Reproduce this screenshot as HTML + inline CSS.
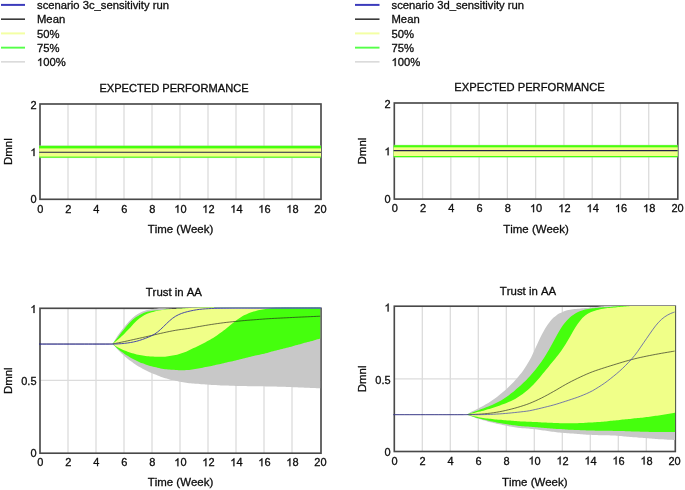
<!DOCTYPE html>
<html><head><meta charset="utf-8"><title>Sensitivity</title>
<style>
html,body{margin:0;padding:0;background:#fff;}
svg{display:block;font-family:"Liberation Sans", sans-serif;fill:#0a0a0a;}
text{stroke:#0a0a0a;stroke-width:0.28px;font-kerning:none;}
.g1{fill:#0a0a0a;stroke:#0a0a0a;stroke-width:0.28px;vector-effect:non-scaling-stroke;}
</style></head><body>
<svg width="685" height="490" viewBox="0 0 685 490">
<rect x="0" y="0" width="685" height="490" fill="#ffffff"/>
<g filter="url(#soft)">
<defs>
<filter id="soft" x="-2%" y="-2%" width="104%" height="104%"><feGaussianBlur stdDeviation="0.35"/></filter>
<clipPath id="cTL"><rect x="39.1" y="103.1" width="281.9" height="96.20000000000002"/></clipPath>
<clipPath id="cTR"><rect x="393.40000000000003" y="102.1" width="284.3999999999999" height="97.0"/></clipPath>
<clipPath id="cBL"><rect x="39.1" y="307.40000000000003" width="281.2" height="145.79999999999998"/></clipPath>
<clipPath id="cBR"><rect x="393.40000000000003" y="306.05" width="281.69999999999993" height="145.45000000000002"/></clipPath>
</defs>
<line x1="1" y1="4.9" x2="25" y2="4.9" stroke="#3a3abc" stroke-width="2"/>
<text x="37" y="9.10" font-size="11.25" text-anchor="start" >scenario 3c_sensitivity run</text>
<line x1="1" y1="19.15" x2="25" y2="19.15" stroke="#000" stroke-width="1.25"/>
<text x="37" y="23.35" font-size="11.25" text-anchor="start" >Mean</text>
<line x1="1" y1="33.4" x2="25" y2="33.4" stroke="#f3ffa4" stroke-width="2"/>
<text x="37" y="37.60" font-size="11.25" text-anchor="start" >50%</text>
<line x1="1" y1="47.65" x2="25" y2="47.65" stroke="#55ff48" stroke-width="1.9"/>
<text x="37" y="51.85" font-size="11.25" text-anchor="start" >75%</text>
<line x1="1" y1="61.9" x2="25" y2="61.9" stroke="#c6c6c6" stroke-width="1.05"/>
<path class="g1" d="M763 0H583V1147Q518 1085 412.5 1023T223 930V1104Q374 1175 487 1276T647 1472H763Z" transform="translate(37.00,66.10) scale(0.005493,-0.005493)"/>
<text x="43.26" y="66.10" font-size="11.25">00%</text>
<line x1="355" y1="4.9" x2="379.5" y2="4.9" stroke="#3a3abc" stroke-width="2"/>
<text x="391.5" y="9.10" font-size="11.25" text-anchor="start" >scenario 3d_sensitivity run</text>
<line x1="355" y1="19.15" x2="379.5" y2="19.15" stroke="#000" stroke-width="1.25"/>
<text x="391.5" y="23.35" font-size="11.25" text-anchor="start" >Mean</text>
<line x1="355" y1="33.4" x2="379.5" y2="33.4" stroke="#f3ffa4" stroke-width="2"/>
<text x="391.5" y="37.60" font-size="11.25" text-anchor="start" >50%</text>
<line x1="355" y1="47.65" x2="379.5" y2="47.65" stroke="#55ff48" stroke-width="1.9"/>
<text x="391.5" y="51.85" font-size="11.25" text-anchor="start" >75%</text>
<line x1="355" y1="61.9" x2="379.5" y2="61.9" stroke="#c6c6c6" stroke-width="1.05"/>
<path class="g1" d="M763 0H583V1147Q518 1085 412.5 1023T223 930V1104Q374 1175 487 1276T647 1472H763Z" transform="translate(391.50,66.10) scale(0.005493,-0.005493)"/>
<text x="397.75" y="66.10" font-size="11.25">00%</text>
<line x1="68.00" y1="104" x2="68.00" y2="199.3" stroke="#dcdcdc" stroke-width="1.3"/>
<line x1="96.00" y1="104" x2="96.00" y2="199.3" stroke="#dcdcdc" stroke-width="1.3"/>
<line x1="124.00" y1="104" x2="124.00" y2="199.3" stroke="#dcdcdc" stroke-width="1.3"/>
<line x1="152.00" y1="104" x2="152.00" y2="199.3" stroke="#dcdcdc" stroke-width="1.3"/>
<line x1="180.00" y1="104" x2="180.00" y2="199.3" stroke="#dcdcdc" stroke-width="1.3"/>
<line x1="208.00" y1="104" x2="208.00" y2="199.3" stroke="#dcdcdc" stroke-width="1.3"/>
<line x1="236.00" y1="104" x2="236.00" y2="199.3" stroke="#dcdcdc" stroke-width="1.3"/>
<line x1="264.00" y1="104" x2="264.00" y2="199.3" stroke="#dcdcdc" stroke-width="1.3"/>
<line x1="292.00" y1="104" x2="292.00" y2="199.3" stroke="#dcdcdc" stroke-width="1.3"/>
<rect x="40" y="104" width="281" height="95.30000000000001" fill="none" stroke="#4a4a4a" stroke-width="1.65"/>
<line x1="422.57" y1="103" x2="422.57" y2="199.1" stroke="#dcdcdc" stroke-width="1.3"/>
<line x1="450.84" y1="103" x2="450.84" y2="199.1" stroke="#dcdcdc" stroke-width="1.3"/>
<line x1="479.11" y1="103" x2="479.11" y2="199.1" stroke="#dcdcdc" stroke-width="1.3"/>
<line x1="507.38" y1="103" x2="507.38" y2="199.1" stroke="#dcdcdc" stroke-width="1.3"/>
<line x1="535.65" y1="103" x2="535.65" y2="199.1" stroke="#dcdcdc" stroke-width="1.3"/>
<line x1="563.92" y1="103" x2="563.92" y2="199.1" stroke="#dcdcdc" stroke-width="1.3"/>
<line x1="592.19" y1="103" x2="592.19" y2="199.1" stroke="#dcdcdc" stroke-width="1.3"/>
<line x1="620.46" y1="103" x2="620.46" y2="199.1" stroke="#dcdcdc" stroke-width="1.3"/>
<line x1="648.73" y1="103" x2="648.73" y2="199.1" stroke="#dcdcdc" stroke-width="1.3"/>
<rect x="394.3" y="103" width="283.49999999999994" height="96.1" fill="none" stroke="#4a4a4a" stroke-width="1.65"/>
<line x1="68.00" y1="308.3" x2="68.00" y2="453.2" stroke="#dcdcdc" stroke-width="1.3"/>
<line x1="96.00" y1="308.3" x2="96.00" y2="453.2" stroke="#dcdcdc" stroke-width="1.3"/>
<line x1="124.00" y1="308.3" x2="124.00" y2="453.2" stroke="#dcdcdc" stroke-width="1.3"/>
<line x1="152.00" y1="308.3" x2="152.00" y2="453.2" stroke="#dcdcdc" stroke-width="1.3"/>
<line x1="180.00" y1="308.3" x2="180.00" y2="453.2" stroke="#dcdcdc" stroke-width="1.3"/>
<line x1="208.00" y1="308.3" x2="208.00" y2="453.2" stroke="#dcdcdc" stroke-width="1.3"/>
<line x1="236.00" y1="308.3" x2="236.00" y2="453.2" stroke="#dcdcdc" stroke-width="1.3"/>
<line x1="264.00" y1="308.3" x2="264.00" y2="453.2" stroke="#dcdcdc" stroke-width="1.3"/>
<line x1="292.00" y1="308.3" x2="292.00" y2="453.2" stroke="#dcdcdc" stroke-width="1.3"/>
<line x1="40" y1="380.3" x2="321" y2="380.3" stroke="#dcdcdc" stroke-width="1.3"/>
<rect x="40" y="308.3" width="281" height="144.89999999999998" fill="none" stroke="#4a4a4a" stroke-width="1.65"/>
<line x1="422.30" y1="306.2" x2="422.30" y2="451.5" stroke="#dcdcdc" stroke-width="1.3"/>
<line x1="450.30" y1="306.2" x2="450.30" y2="451.5" stroke="#dcdcdc" stroke-width="1.3"/>
<line x1="478.30" y1="306.2" x2="478.30" y2="451.5" stroke="#dcdcdc" stroke-width="1.3"/>
<line x1="506.30" y1="306.2" x2="506.30" y2="451.5" stroke="#dcdcdc" stroke-width="1.3"/>
<line x1="534.30" y1="306.2" x2="534.30" y2="451.5" stroke="#dcdcdc" stroke-width="1.3"/>
<line x1="562.30" y1="306.2" x2="562.30" y2="451.5" stroke="#dcdcdc" stroke-width="1.3"/>
<line x1="590.30" y1="306.2" x2="590.30" y2="451.5" stroke="#dcdcdc" stroke-width="1.3"/>
<line x1="618.30" y1="306.2" x2="618.30" y2="451.5" stroke="#dcdcdc" stroke-width="1.3"/>
<line x1="646.30" y1="306.2" x2="646.30" y2="451.5" stroke="#dcdcdc" stroke-width="1.3"/>
<line x1="394.3" y1="378.9" x2="675.3" y2="378.9" stroke="#dcdcdc" stroke-width="1.3"/>
<rect x="394.3" y="306.2" width="280.99999999999994" height="145.3" fill="none" stroke="#4a4a4a" stroke-width="1.65"/>
<g clip-path="url(#cTL)">
<rect x="39.1" y="145.3" width="281.9" height="12.799999999999978" fill="#c8c8c8" opacity="0.6"/>
<rect x="39.1" y="145.8" width="281.9" height="11.899999999999977" fill="#44ff08"/>
<rect x="39.1" y="148.4" width="281.9" height="8.199999999999989" fill="#f0ff88"/>
<line x1="39.1" y1="152.2" x2="321" y2="152.2" stroke="#22224a" stroke-width="1.15"/>
</g>
<g clip-path="url(#cTR)">
<rect x="393.40000000000003" y="144.7" width="284.3999999999999" height="12.9" fill="#c8c8c8" opacity="0.6"/>
<rect x="393.40000000000003" y="145.2" width="284.3999999999999" height="12.0" fill="#44ff08"/>
<rect x="393.40000000000003" y="147.3" width="284.3999999999999" height="8.699999999999989" fill="#f0ff88"/>
<line x1="393.40000000000003" y1="150.55" x2="677.8" y2="150.55" stroke="#22224a" stroke-width="1.15"/>
</g>
<path d="M112.60,343.99 C113.10,343.14 114.60,340.52 115.60,338.89 C116.60,337.26 117.60,335.64 118.60,334.21 C119.60,332.77 120.60,331.57 121.60,330.29 C122.60,329.00 123.60,327.72 124.60,326.49 C125.60,325.26 126.60,324.04 127.60,322.91 C128.60,321.78 129.60,320.68 130.60,319.70 C131.60,318.71 132.60,317.82 133.60,317.01 C134.60,316.19 135.60,315.48 136.60,314.80 C137.60,314.13 138.60,313.52 139.60,312.97 C140.60,312.42 141.60,311.91 142.60,311.49 C143.60,311.07 144.60,310.73 145.60,310.44 C146.60,310.14 147.60,309.91 148.60,309.70 C149.60,309.49 150.60,309.33 151.60,309.18 C152.60,309.02 153.60,308.90 154.60,308.78 C155.60,308.65 156.60,308.53 157.60,308.44 C158.60,308.35 159.60,308.23 160.60,308.21 C161.60,308.19 162.60,308.26 163.60,308.30 C164.60,308.35 165.60,308.43 166.60,308.50 C167.60,308.56 168.60,308.64 169.60,308.70 C170.60,308.77 171.60,308.85 172.60,308.90 C173.60,308.95 174.60,309.00 175.60,308.99 C176.60,308.98 177.60,308.88 178.60,308.82 C179.60,308.76 180.60,308.69 181.60,308.63 C182.60,308.57 183.60,308.51 184.60,308.45 C185.60,308.38 186.60,308.32 187.60,308.25 C188.60,308.19 189.60,308.12 190.60,308.05 C191.60,307.98 192.60,307.91 193.60,307.84 C194.60,307.77 195.60,307.70 196.60,307.64 C197.60,307.58 198.60,307.52 199.60,307.47 C200.60,307.42 201.60,307.37 202.60,307.32 C203.60,307.28 204.60,307.24 205.60,307.22 C206.60,307.19 207.60,307.18 208.60,307.17 C209.60,307.15 210.60,307.14 211.60,307.13 C212.60,307.13 213.60,307.12 214.60,307.11 C215.60,307.10 216.60,307.10 217.60,307.10 C218.60,307.10 219.60,307.10 220.60,307.10 C221.60,307.10 222.60,307.10 223.60,307.10 C224.60,307.10 225.60,307.10 226.60,307.10 C227.60,307.10 228.60,307.10 229.60,307.10 C230.60,307.10 231.60,307.10 232.60,307.10 C233.60,307.10 234.60,307.10 235.60,307.10 C236.60,307.10 237.60,307.10 238.60,307.10 C239.60,307.10 240.60,307.10 241.60,307.10 C242.60,307.10 243.60,307.10 244.60,307.10 C245.60,307.10 246.60,307.10 247.60,307.10 C248.60,307.10 249.60,307.10 250.60,307.10 C251.60,307.10 252.60,307.10 253.60,307.10 C254.60,307.10 255.60,307.10 256.60,307.10 C257.60,307.10 258.60,307.10 259.60,307.10 C260.60,307.10 261.60,307.10 262.60,307.10 C263.60,307.10 264.60,307.10 265.60,307.10 C266.60,307.10 267.60,307.10 268.60,307.10 C269.60,307.10 270.60,307.10 271.60,307.10 C272.60,307.10 273.60,307.10 274.60,307.10 C275.60,307.10 276.60,307.10 277.60,307.10 C278.60,307.10 279.60,307.10 280.60,307.10 C281.60,307.10 282.60,307.10 283.60,307.10 C284.60,307.10 285.60,307.10 286.60,307.10 C287.60,307.10 288.60,307.10 289.60,307.10 C290.60,307.10 291.60,307.10 292.60,307.10 C293.60,307.10 294.60,307.10 295.60,307.10 C296.60,307.10 297.60,307.10 298.60,307.10 C299.60,307.10 300.60,307.10 301.60,307.10 C302.60,307.10 303.60,307.10 304.60,307.10 C305.60,307.10 306.60,307.10 307.60,307.10 C308.60,307.10 309.60,307.10 310.60,307.10 C311.60,307.10 312.60,307.10 313.60,307.10 C314.60,307.10 315.60,307.10 316.60,307.10 C317.60,307.10 318.93,307.10 319.60,307.10 C320.27,307.10 320.43,307.10 320.60,307.10 L320.60,388.37 C320.43,388.36 320.27,388.35 319.60,388.32 C318.93,388.29 317.60,388.22 316.60,388.17 C315.60,388.12 314.60,388.06 313.60,388.02 C312.60,387.97 311.60,387.92 310.60,387.88 C309.60,387.84 308.60,387.80 307.60,387.76 C306.60,387.72 305.60,387.68 304.60,387.64 C303.60,387.60 302.60,387.56 301.60,387.52 C300.60,387.48 299.60,387.44 298.60,387.40 C297.60,387.36 296.60,387.32 295.60,387.28 C294.60,387.24 293.60,387.20 292.60,387.16 C291.60,387.12 290.60,387.08 289.60,387.04 C288.60,387.01 287.60,386.97 286.60,386.94 C285.60,386.90 284.60,386.87 283.60,386.84 C282.60,386.80 281.60,386.77 280.60,386.74 C279.60,386.71 278.60,386.68 277.60,386.66 C276.60,386.63 275.60,386.60 274.60,386.58 C273.60,386.55 272.60,386.53 271.60,386.51 C270.60,386.48 269.60,386.46 268.60,386.44 C267.60,386.42 266.60,386.40 265.60,386.38 C264.60,386.37 263.60,386.35 262.60,386.33 C261.60,386.32 260.60,386.31 259.60,386.29 C258.60,386.28 257.60,386.27 256.60,386.26 C255.60,386.25 254.60,386.24 253.60,386.23 C252.60,386.22 251.60,386.21 250.60,386.20 C249.60,386.19 248.60,386.18 247.60,386.17 C246.60,386.15 245.60,386.14 244.60,386.12 C243.60,386.10 242.60,386.08 241.60,386.06 C240.60,386.04 239.60,386.01 238.60,385.98 C237.60,385.96 236.60,385.93 235.60,385.90 C234.60,385.87 233.60,385.84 232.60,385.81 C231.60,385.78 230.60,385.75 229.60,385.72 C228.60,385.68 227.60,385.65 226.60,385.62 C225.60,385.59 224.60,385.55 223.60,385.51 C222.60,385.48 221.60,385.44 220.60,385.39 C219.60,385.35 218.60,385.31 217.60,385.26 C216.60,385.21 215.60,385.16 214.60,385.11 C213.60,385.05 212.60,384.99 211.60,384.93 C210.60,384.87 209.60,384.80 208.60,384.73 C207.60,384.66 206.60,384.59 205.60,384.51 C204.60,384.43 203.60,384.35 202.60,384.27 C201.60,384.19 200.60,384.09 199.60,384.01 C198.60,383.93 197.60,383.87 196.60,383.80 C195.60,383.72 194.60,383.63 193.60,383.54 C192.60,383.44 191.60,383.34 190.60,383.23 C189.60,383.12 188.60,383.01 187.60,382.88 C186.60,382.75 185.60,382.61 184.60,382.46 C183.60,382.31 182.60,382.14 181.60,381.97 C180.60,381.79 179.60,381.60 178.60,381.41 C177.60,381.21 176.60,381.01 175.60,380.79 C174.60,380.57 173.60,380.35 172.60,380.11 C171.60,379.88 170.60,379.64 169.60,379.38 C168.60,379.13 167.60,378.87 166.60,378.59 C165.60,378.30 164.60,378.00 163.60,377.68 C162.60,377.36 161.60,377.01 160.60,376.66 C159.60,376.30 158.60,375.93 157.60,375.55 C156.60,375.16 155.60,374.76 154.60,374.35 C153.60,373.94 152.60,373.51 151.60,373.07 C150.60,372.63 149.60,372.18 148.60,371.71 C147.60,371.24 146.60,370.76 145.60,370.25 C144.60,369.75 143.60,369.23 142.60,368.69 C141.60,368.14 140.60,367.58 139.60,366.99 C138.60,366.40 137.60,365.79 136.60,365.15 C135.60,364.51 134.60,363.85 133.60,363.16 C132.60,362.47 131.60,361.74 130.60,360.99 C129.60,360.24 128.60,359.46 127.60,358.65 C126.60,357.85 125.60,357.02 124.60,356.18 C123.60,355.34 122.60,354.55 121.60,353.61 C120.60,352.68 119.60,351.62 118.60,350.55 C117.60,349.48 116.60,348.29 115.60,347.20 C114.60,346.11 113.10,344.54 112.60,344.00 Z" fill="#c8c8c8" clip-path="url(#cBL)"/>
<path d="M112.60,343.99 C113.10,343.34 114.60,341.34 115.60,340.06 C116.60,338.78 117.60,337.59 118.60,336.30 C119.60,335.02 120.60,333.65 121.60,332.36 C122.60,331.07 123.60,329.78 124.60,328.55 C125.60,327.31 126.60,326.08 127.60,324.94 C128.60,323.80 129.60,322.70 130.60,321.71 C131.60,320.72 132.60,319.82 133.60,319.00 C134.60,318.17 135.60,317.45 136.60,316.77 C137.60,316.09 138.60,315.47 139.60,314.92 C140.60,314.36 141.60,313.84 142.60,313.41 C143.60,312.98 144.60,312.64 145.60,312.34 C146.60,312.03 147.60,311.80 148.60,311.58 C149.60,311.36 150.60,311.20 151.60,311.04 C152.60,310.88 153.60,310.75 154.60,310.62 C155.60,310.49 156.60,310.37 157.60,310.26 C158.60,310.14 159.60,310.04 160.60,309.94 C161.60,309.84 162.60,309.75 163.60,309.67 C164.60,309.60 165.60,309.56 166.60,309.50 C167.60,309.45 168.60,309.41 169.60,309.35 C170.60,309.30 171.60,309.25 172.60,309.19 C173.60,309.13 174.60,309.05 175.60,308.99 C176.60,308.93 177.60,308.88 178.60,308.82 C179.60,308.76 180.60,308.69 181.60,308.63 C182.60,308.57 183.60,308.51 184.60,308.45 C185.60,308.38 186.60,308.32 187.60,308.25 C188.60,308.19 189.60,308.12 190.60,308.05 C191.60,307.98 192.60,307.91 193.60,307.84 C194.60,307.77 195.60,307.70 196.60,307.64 C197.60,307.58 198.60,307.52 199.60,307.47 C200.60,307.42 201.60,307.37 202.60,307.32 C203.60,307.28 204.60,307.24 205.60,307.22 C206.60,307.19 207.60,307.18 208.60,307.17 C209.60,307.15 210.60,307.14 211.60,307.13 C212.60,307.13 213.60,307.12 214.60,307.11 C215.60,307.10 216.60,307.10 217.60,307.10 C218.60,307.10 219.60,307.10 220.60,307.10 C221.60,307.10 222.60,307.10 223.60,307.10 C224.60,307.10 225.60,307.10 226.60,307.10 C227.60,307.10 228.60,307.10 229.60,307.10 C230.60,307.10 231.60,307.10 232.60,307.10 C233.60,307.10 234.60,307.10 235.60,307.10 C236.60,307.10 237.60,307.10 238.60,307.10 C239.60,307.10 240.60,307.10 241.60,307.10 C242.60,307.10 243.60,307.10 244.60,307.10 C245.60,307.10 246.60,307.10 247.60,307.10 C248.60,307.10 249.60,307.10 250.60,307.10 C251.60,307.10 252.60,307.10 253.60,307.10 C254.60,307.10 255.60,307.10 256.60,307.10 C257.60,307.10 258.60,307.10 259.60,307.10 C260.60,307.10 261.60,307.10 262.60,307.10 C263.60,307.10 264.60,307.10 265.60,307.10 C266.60,307.10 267.60,307.10 268.60,307.10 C269.60,307.10 270.60,307.10 271.60,307.10 C272.60,307.10 273.60,307.10 274.60,307.10 C275.60,307.10 276.60,307.10 277.60,307.10 C278.60,307.10 279.60,307.10 280.60,307.10 C281.60,307.10 282.60,307.10 283.60,307.10 C284.60,307.10 285.60,307.10 286.60,307.10 C287.60,307.10 288.60,307.10 289.60,307.10 C290.60,307.10 291.60,307.10 292.60,307.10 C293.60,307.10 294.60,307.10 295.60,307.10 C296.60,307.10 297.60,307.10 298.60,307.10 C299.60,307.10 300.60,307.10 301.60,307.10 C302.60,307.10 303.60,307.10 304.60,307.10 C305.60,307.10 306.60,307.10 307.60,307.10 C308.60,307.10 309.60,307.10 310.60,307.10 C311.60,307.10 312.60,307.10 313.60,307.10 C314.60,307.10 315.60,307.10 316.60,307.10 C317.60,307.10 318.93,307.10 319.60,307.10 C320.27,307.10 320.43,307.10 320.60,307.10 L320.60,338.47 C320.43,338.52 320.27,338.56 319.60,338.75 C318.93,338.93 317.60,339.31 316.60,339.59 C315.60,339.87 314.60,340.15 313.60,340.43 C312.60,340.71 311.60,341.00 310.60,341.27 C309.60,341.54 308.60,341.78 307.60,342.04 C306.60,342.30 305.60,342.57 304.60,342.84 C303.60,343.11 302.60,343.39 301.60,343.66 C300.60,343.93 299.60,344.21 298.60,344.48 C297.60,344.75 296.60,345.03 295.60,345.31 C294.60,345.58 293.60,345.86 292.60,346.14 C291.60,346.41 290.60,346.69 289.60,346.96 C288.60,347.23 287.60,347.50 286.60,347.76 C285.60,348.03 284.60,348.29 283.60,348.54 C282.60,348.80 281.60,349.06 280.60,349.31 C279.60,349.56 278.60,349.82 277.60,350.07 C276.60,350.32 275.60,350.57 274.60,350.83 C273.60,351.08 272.60,351.34 271.60,351.60 C270.60,351.86 269.60,352.12 268.60,352.38 C267.60,352.65 266.60,352.91 265.60,353.17 C264.60,353.43 263.60,353.69 262.60,353.93 C261.60,354.18 260.60,354.41 259.60,354.64 C258.60,354.87 257.60,355.09 256.60,355.32 C255.60,355.55 254.60,355.77 253.60,356.01 C252.60,356.24 251.60,356.48 250.60,356.72 C249.60,356.96 248.60,357.20 247.60,357.44 C246.60,357.68 245.60,357.93 244.60,358.17 C243.60,358.41 242.60,358.66 241.60,358.91 C240.60,359.15 239.60,359.40 238.60,359.65 C237.60,359.90 236.60,360.15 235.60,360.39 C234.60,360.64 233.60,360.89 232.60,361.13 C231.60,361.37 230.60,361.61 229.60,361.85 C228.60,362.09 227.60,362.32 226.60,362.55 C225.60,362.79 224.60,363.02 223.60,363.25 C222.60,363.48 221.60,363.70 220.60,363.93 C219.60,364.16 218.60,364.38 217.60,364.61 C216.60,364.83 215.60,365.05 214.60,365.26 C213.60,365.48 212.60,365.69 211.60,365.90 C210.60,366.10 209.60,366.31 208.60,366.51 C207.60,366.71 206.60,366.90 205.60,367.09 C204.60,367.29 203.60,367.48 202.60,367.66 C201.60,367.85 200.60,368.02 199.60,368.21 C198.60,368.40 197.60,368.61 196.60,368.79 C195.60,368.97 194.60,369.14 193.60,369.30 C192.60,369.45 191.60,369.59 190.60,369.71 C189.60,369.83 188.60,369.93 187.60,370.00 C186.60,370.08 185.60,370.13 184.60,370.16 C183.60,370.20 182.60,370.21 181.60,370.21 C180.60,370.21 179.60,370.19 178.60,370.16 C177.60,370.13 176.60,370.09 175.60,370.04 C174.60,369.98 173.60,369.92 172.60,369.85 C171.60,369.78 170.60,369.70 169.60,369.61 C168.60,369.52 167.60,369.43 166.60,369.32 C165.60,369.20 164.60,369.06 163.60,368.91 C162.60,368.75 161.60,368.57 160.60,368.38 C159.60,368.19 158.60,367.99 157.60,367.77 C156.60,367.56 155.60,367.33 154.60,367.09 C153.60,366.85 152.60,366.60 151.60,366.32 C150.60,366.05 149.60,365.76 148.60,365.46 C147.60,365.15 146.60,364.82 145.60,364.48 C144.60,364.13 143.60,363.76 142.60,363.37 C141.60,362.99 140.60,362.58 139.60,362.15 C138.60,361.72 137.60,361.28 136.60,360.81 C135.60,360.33 134.60,359.84 133.60,359.32 C132.60,358.80 131.60,358.26 130.60,357.68 C129.60,357.10 128.60,356.49 127.60,355.86 C126.60,355.23 125.60,354.57 124.60,353.91 C123.60,353.24 122.60,352.62 121.60,351.87 C120.60,351.12 119.60,350.29 118.60,349.43 C117.60,348.57 116.60,347.61 115.60,346.71 C114.60,345.81 113.10,344.45 112.60,344.00 Z" fill="#44ff08" clip-path="url(#cBL)"/>
<path d="M112.60,344.00 C113.10,343.60 114.60,342.42 115.60,341.59 C116.60,340.77 117.60,339.93 118.60,339.03 C119.60,338.14 120.60,337.17 121.60,336.23 C122.60,335.30 123.60,334.40 124.60,333.42 C125.60,332.44 126.60,331.41 127.60,330.37 C128.60,329.33 129.60,328.26 130.60,327.17 C131.60,326.08 132.60,324.90 133.60,323.82 C134.60,322.73 135.60,321.61 136.60,320.67 C137.60,319.73 138.60,318.93 139.60,318.19 C140.60,317.45 141.60,316.83 142.60,316.22 C143.60,315.62 144.60,315.05 145.60,314.56 C146.60,314.07 147.60,313.66 148.60,313.29 C149.60,312.93 150.60,312.64 151.60,312.35 C152.60,312.05 153.60,311.77 154.60,311.52 C155.60,311.27 156.60,311.07 157.60,310.86 C158.60,310.65 159.60,310.43 160.60,310.25 C161.60,310.07 162.60,309.90 163.60,309.76 C164.60,309.63 165.60,309.54 166.60,309.45 C167.60,309.36 168.60,309.27 169.60,309.22 C170.60,309.16 171.60,309.16 172.60,309.12 C173.60,309.08 174.60,309.04 175.60,308.99 C176.60,308.94 177.60,308.88 178.60,308.82 C179.60,308.76 180.60,308.69 181.60,308.63 C182.60,308.57 183.60,308.51 184.60,308.45 C185.60,308.38 186.60,308.32 187.60,308.25 C188.60,308.19 189.60,308.12 190.60,308.05 C191.60,307.98 192.60,307.91 193.60,307.84 C194.60,307.77 195.60,307.70 196.60,307.64 C197.60,307.58 198.60,307.52 199.60,307.47 C200.60,307.42 201.60,307.37 202.60,307.32 C203.60,307.28 204.60,307.24 205.60,307.22 C206.60,307.19 207.60,307.18 208.60,307.17 C209.60,307.15 210.60,307.14 211.60,307.13 C212.60,307.13 213.60,307.12 214.60,307.11 C215.60,307.10 216.60,307.10 217.60,307.10 C218.60,307.10 219.60,307.10 220.60,307.10 C221.60,307.10 222.60,307.10 223.60,307.10 C224.60,307.10 225.60,307.10 226.60,307.10 C227.60,307.10 228.60,307.10 229.60,307.10 C230.60,307.10 231.60,307.10 232.60,307.10 C233.60,307.10 234.60,307.10 235.60,307.10 C236.60,307.10 237.60,307.10 238.60,307.10 C239.60,307.10 240.60,307.10 241.60,307.10 C242.60,307.10 243.60,307.10 244.60,307.10 C245.60,307.10 246.60,307.10 247.60,307.10 C248.60,307.10 249.60,307.10 250.60,307.10 C251.60,307.10 252.60,307.10 253.60,307.10 C254.60,307.10 255.60,307.10 256.60,307.10 C257.60,307.10 258.60,307.10 259.60,307.10 C260.60,307.10 261.60,307.10 262.60,307.10 C263.60,307.10 264.60,307.10 265.60,307.10 C266.60,307.10 267.60,307.10 268.60,307.10 C269.60,307.10 270.60,307.10 271.60,307.10 C272.60,307.10 273.60,307.10 274.60,307.10 C275.60,307.10 276.60,307.10 277.60,307.10 C278.60,307.10 279.60,307.10 280.60,307.10 C281.60,307.10 282.60,307.10 283.60,307.10 C284.60,307.10 285.60,307.10 286.60,307.10 C287.60,307.10 288.60,307.10 289.60,307.10 C290.60,307.10 291.60,307.10 292.60,307.10 C293.60,307.10 294.60,307.10 295.60,307.10 C296.60,307.10 297.60,307.10 298.60,307.10 C299.60,307.10 300.60,307.10 301.60,307.10 C302.60,307.10 303.60,307.10 304.60,307.10 C305.60,307.10 306.60,307.10 307.60,307.10 C308.60,307.10 309.60,307.10 310.60,307.10 C311.60,307.10 312.60,307.10 313.60,307.10 C314.60,307.10 315.60,307.10 316.60,307.10 C317.60,307.10 318.93,307.10 319.60,307.10 C320.27,307.10 320.43,307.10 320.60,307.10 L320.60,307.10 C320.43,307.10 320.27,307.10 319.60,307.10 C318.93,307.10 317.60,307.10 316.60,307.10 C315.60,307.10 314.60,307.10 313.60,307.10 C312.60,307.10 311.60,307.10 310.60,307.10 C309.60,307.10 308.60,307.10 307.60,307.10 C306.60,307.10 305.60,307.10 304.60,307.10 C303.60,307.10 302.60,307.10 301.60,307.10 C300.60,307.10 299.60,307.10 298.60,307.10 C297.60,307.10 296.60,307.10 295.60,307.10 C294.60,307.10 293.60,307.10 292.60,307.10 C291.60,307.10 290.60,307.10 289.60,307.10 C288.60,307.10 287.60,307.10 286.60,307.10 C285.60,307.11 284.60,307.11 283.60,307.12 C282.60,307.13 281.60,307.14 280.60,307.17 C279.60,307.20 278.60,307.23 277.60,307.30 C276.60,307.36 275.60,307.44 274.60,307.55 C273.60,307.65 272.60,307.78 271.60,307.92 C270.60,308.07 269.60,308.23 268.60,308.39 C267.60,308.56 266.60,308.73 265.60,308.91 C264.60,309.08 263.60,309.26 262.60,309.44 C261.60,309.63 260.60,309.82 259.60,310.03 C258.60,310.24 257.60,310.46 256.60,310.70 C255.60,310.95 254.60,311.20 253.60,311.50 C252.60,311.79 251.60,312.11 250.60,312.46 C249.60,312.82 248.60,313.20 247.60,313.64 C246.60,314.07 245.60,314.54 244.60,315.06 C243.60,315.58 242.60,316.15 241.60,316.76 C240.60,317.38 239.60,318.04 238.60,318.74 C237.60,319.44 236.60,320.19 235.60,320.95 C234.60,321.71 233.60,322.51 232.60,323.30 C231.60,324.10 230.60,324.91 229.60,325.72 C228.60,326.53 227.60,327.34 226.60,328.13 C225.60,328.93 224.60,329.72 223.60,330.49 C222.60,331.26 221.60,332.02 220.60,332.75 C219.60,333.49 218.60,334.20 217.60,334.90 C216.60,335.59 215.60,336.26 214.60,336.90 C213.60,337.55 212.60,338.17 211.60,338.78 C210.60,339.38 209.60,339.96 208.60,340.52 C207.60,341.09 206.60,341.63 205.60,342.16 C204.60,342.69 203.60,343.20 202.60,343.70 C201.60,344.20 200.60,344.68 199.60,345.17 C198.60,345.66 197.60,346.15 196.60,346.64 C195.60,347.13 194.60,347.61 193.60,348.09 C192.60,348.58 191.60,349.07 190.60,349.54 C189.60,350.01 188.60,350.49 187.60,350.94 C186.60,351.39 185.60,351.82 184.60,352.22 C183.60,352.61 182.60,352.98 181.60,353.32 C180.60,353.65 179.60,353.94 178.60,354.22 C177.60,354.49 176.60,354.73 175.60,354.95 C174.60,355.17 173.60,355.36 172.60,355.54 C171.60,355.72 170.60,355.88 169.60,356.02 C168.60,356.17 167.60,356.30 166.60,356.40 C165.60,356.51 164.60,356.60 163.60,356.66 C162.60,356.72 161.60,356.76 160.60,356.78 C159.60,356.81 158.60,356.82 157.60,356.81 C156.60,356.80 155.60,356.78 154.60,356.75 C153.60,356.71 152.60,356.66 151.60,356.59 C150.60,356.53 149.60,356.45 148.60,356.35 C147.60,356.25 146.60,356.14 145.60,356.01 C144.60,355.88 143.60,355.74 142.60,355.57 C141.60,355.41 140.60,355.23 139.60,355.03 C138.60,354.83 137.60,354.62 136.60,354.38 C135.60,354.15 134.60,353.89 133.60,353.61 C132.60,353.34 131.60,353.04 130.60,352.71 C129.60,352.39 128.60,352.04 127.60,351.68 C126.60,351.32 125.60,350.93 124.60,350.54 C123.60,350.15 122.60,349.78 121.60,349.32 C120.60,348.87 119.60,348.37 118.60,347.82 C117.60,347.27 116.60,346.65 115.60,346.02 C114.60,345.38 113.10,344.34 112.60,344.00 Z" fill="#f0ff88" clip-path="url(#cBL)"/>
<path d="M39.00,344.00 C45.83,344.00 68.50,344.00 80.00,344.00 C91.50,344.00 102.57,344.02 108.00,344.00 C113.43,343.98 111.33,344.01 112.60,343.90 C113.87,343.79 114.60,343.55 115.60,343.36 C116.60,343.17 117.60,342.98 118.60,342.78 C119.60,342.57 120.60,342.36 121.60,342.15 C122.60,341.94 123.60,341.74 124.60,341.52 C125.60,341.31 126.60,341.08 127.60,340.86 C128.60,340.64 129.60,340.41 130.60,340.19 C131.60,339.97 132.60,339.75 133.60,339.53 C134.60,339.31 135.60,339.09 136.60,338.87 C137.60,338.64 138.60,338.42 139.60,338.20 C140.60,337.98 141.60,337.75 142.60,337.53 C143.60,337.30 144.60,337.07 145.60,336.85 C146.60,336.62 147.60,336.39 148.60,336.16 C149.60,335.93 150.60,335.70 151.60,335.47 C152.60,335.24 153.60,335.01 154.60,334.78 C155.60,334.55 156.60,334.32 157.60,334.09 C158.60,333.86 159.60,333.63 160.60,333.40 C161.60,333.18 162.60,332.95 163.60,332.73 C164.60,332.51 165.60,332.29 166.60,332.07 C167.60,331.86 168.60,331.65 169.60,331.44 C170.60,331.24 171.60,331.04 172.60,330.85 C173.60,330.66 174.60,330.47 175.60,330.30 C176.60,330.12 177.60,329.97 178.60,329.82 C179.60,329.68 180.60,329.56 181.60,329.43 C182.60,329.30 183.60,329.18 184.60,329.04 C185.60,328.90 186.60,328.75 187.60,328.59 C188.60,328.43 189.60,328.26 190.60,328.08 C191.60,327.90 192.60,327.71 193.60,327.53 C194.60,327.35 195.60,327.16 196.60,326.98 C197.60,326.80 198.60,326.62 199.60,326.44 C200.60,326.27 201.60,326.10 202.60,325.93 C203.60,325.75 204.60,325.59 205.60,325.42 C206.60,325.25 207.60,325.09 208.60,324.92 C209.60,324.76 210.60,324.60 211.60,324.45 C212.60,324.29 213.60,324.14 214.60,323.99 C215.60,323.84 216.60,323.69 217.60,323.55 C218.60,323.40 219.60,323.26 220.60,323.13 C221.60,322.99 222.60,322.86 223.60,322.74 C224.60,322.62 225.60,322.50 226.60,322.39 C227.60,322.27 228.60,322.16 229.60,322.05 C230.60,321.94 231.60,321.83 232.60,321.73 C233.60,321.62 234.60,321.52 235.60,321.41 C236.60,321.31 237.60,321.21 238.60,321.11 C239.60,321.01 240.60,320.91 241.60,320.81 C242.60,320.71 243.60,320.62 244.60,320.53 C245.60,320.44 246.60,320.35 247.60,320.27 C248.60,320.19 249.60,320.12 250.60,320.04 C251.60,319.96 252.60,319.89 253.60,319.82 C254.60,319.74 255.60,319.67 256.60,319.59 C257.60,319.52 258.60,319.44 259.60,319.36 C260.60,319.27 261.60,319.19 262.60,319.11 C263.60,319.03 264.60,318.96 265.60,318.89 C266.60,318.82 267.60,318.76 268.60,318.70 C269.60,318.64 270.60,318.58 271.60,318.53 C272.60,318.48 273.60,318.43 274.60,318.37 C275.60,318.32 276.60,318.27 277.60,318.22 C278.60,318.17 279.60,318.12 280.60,318.07 C281.60,318.02 282.60,317.97 283.60,317.92 C284.60,317.87 285.60,317.82 286.60,317.77 C287.60,317.72 288.60,317.67 289.60,317.62 C290.60,317.57 291.60,317.52 292.60,317.47 C293.60,317.42 294.60,317.37 295.60,317.32 C296.60,317.28 297.60,317.23 298.60,317.18 C299.60,317.13 300.60,317.09 301.60,317.04 C302.60,316.99 303.60,316.95 304.60,316.90 C305.60,316.86 306.60,316.81 307.60,316.77 C308.60,316.73 309.60,316.68 310.60,316.64 C311.60,316.60 312.60,316.55 313.60,316.51 C314.60,316.46 315.60,316.42 316.60,316.37 C317.60,316.33 318.93,316.27 319.60,316.24 C320.27,316.21 320.43,316.20 320.60,316.19" fill="none" stroke="#202020" stroke-width="0.65" clip-path="url(#cBL)"/>
<path d="M39.00,344.10 C45.83,344.10 68.50,344.10 80.00,344.10 C91.50,344.10 102.57,344.10 108.00,344.10 C113.43,344.10 111.33,344.12 112.60,344.10 C113.87,344.08 114.60,344.04 115.60,344.00 C116.60,343.95 117.60,343.90 118.60,343.84 C119.60,343.78 120.60,343.72 121.60,343.63 C122.60,343.55 123.60,343.45 124.60,343.34 C125.60,343.23 126.60,343.10 127.60,342.96 C128.60,342.82 129.60,342.67 130.60,342.50 C131.60,342.33 132.60,342.15 133.60,341.94 C134.60,341.74 135.60,341.52 136.60,341.26 C137.60,341.00 138.60,340.72 139.60,340.40 C140.60,340.09 141.60,339.75 142.60,339.39 C143.60,339.04 144.60,338.65 145.60,338.26 C146.60,337.87 147.60,337.48 148.60,337.06 C149.60,336.64 150.60,336.24 151.60,335.75 C152.60,335.26 153.60,334.74 154.60,334.12 C155.60,333.49 156.60,332.78 157.60,331.99 C158.60,331.21 159.60,330.32 160.60,329.41 C161.60,328.49 162.60,327.50 163.60,326.53 C164.60,325.56 165.60,324.54 166.60,323.58 C167.60,322.62 168.60,321.64 169.60,320.75 C170.60,319.87 171.60,319.01 172.60,318.26 C173.60,317.51 174.60,316.84 175.60,316.24 C176.60,315.64 177.60,315.13 178.60,314.66 C179.60,314.18 180.60,313.78 181.60,313.41 C182.60,313.04 183.60,312.72 184.60,312.42 C185.60,312.13 186.60,311.87 187.60,311.62 C188.60,311.38 189.60,311.15 190.60,310.93 C191.60,310.72 192.60,310.51 193.60,310.31 C194.60,310.12 195.60,309.94 196.60,309.78 C197.60,309.62 198.60,309.48 199.60,309.36 C200.60,309.24 201.60,309.14 202.60,309.05 C203.60,308.96 204.60,308.89 205.60,308.82 C206.60,308.75 207.60,308.70 208.60,308.65 C209.60,308.60 210.60,308.56 211.60,308.51 C212.60,308.47 213.60,308.43 214.60,308.39 C215.60,308.36 216.60,308.33 217.60,308.30 C218.60,308.28 219.60,308.25 220.60,308.23 C221.60,308.21 222.60,308.19 223.60,308.17 C224.60,308.15 225.60,308.14 226.60,308.12 C227.60,308.10 228.60,308.09 229.60,308.08 C230.60,308.07 231.60,308.06 232.60,308.05 C233.60,308.05 234.60,308.04 235.60,308.03 C236.60,308.03 237.60,308.02 238.60,308.01 C239.60,308.01 240.60,308.01 241.60,308.00 C242.60,308.00 243.60,308.00 244.60,308.00 C245.60,308.00 246.60,308.00 247.60,308.00 C248.60,308.00 249.60,308.00 250.60,308.00 C251.60,308.00 252.60,308.00 253.60,308.00 C254.60,308.00 255.60,308.00 256.60,308.00 C257.60,308.00 258.60,308.00 259.60,308.00 C260.60,308.00 261.60,308.00 262.60,308.00 C263.60,308.00 264.60,308.00 265.60,308.00 C266.60,308.00 267.60,308.00 268.60,308.00 C269.60,308.00 270.60,308.00 271.60,308.00 C272.60,308.00 273.60,308.00 274.60,308.00 C275.60,308.00 276.60,308.00 277.60,308.00 C278.60,308.00 279.60,308.00 280.60,308.00 C281.60,308.00 282.60,308.00 283.60,308.00 C284.60,308.00 285.60,308.00 286.60,308.00 C287.60,308.00 288.60,308.00 289.60,308.00 C290.60,308.00 291.60,308.00 292.60,308.00 C293.60,308.00 294.60,308.00 295.60,308.00 C296.60,308.00 297.60,308.00 298.60,308.00 C299.60,308.00 300.60,308.00 301.60,308.00 C302.60,308.00 303.60,308.00 304.60,308.00 C305.60,308.00 306.60,308.00 307.60,308.00 C308.60,308.00 309.60,308.00 310.60,308.00 C311.60,308.00 312.60,308.00 313.60,308.00 C314.60,308.00 315.60,308.00 316.60,308.00 C317.60,308.00 318.93,308.00 319.60,308.00 C320.27,308.00 320.43,308.00 320.60,308.00" fill="none" stroke="#3636ac" stroke-width="0.9" clip-path="url(#cBL)"/>
<line x1="214" y1="308.0" x2="321" y2="308.0" stroke="#5c5cd0" stroke-width="1.1"/>
<path d="M466.38,414.60 C466.87,414.32 468.34,413.49 469.32,412.95 C470.30,412.42 471.28,411.88 472.25,411.37 C473.23,410.86 474.22,410.38 475.19,409.90 C476.17,409.42 477.14,408.96 478.12,408.48 C479.09,408.00 480.07,407.51 481.04,407.00 C482.01,406.49 482.98,405.97 483.96,405.42 C484.93,404.87 485.90,404.31 486.87,403.73 C487.83,403.15 488.80,402.55 489.77,401.93 C490.74,401.32 491.70,400.68 492.67,400.02 C493.63,399.35 494.60,398.67 495.56,397.95 C496.52,397.23 497.46,396.48 498.44,395.70 C499.42,394.92 500.43,394.11 501.43,393.27 C502.44,392.43 503.47,391.57 504.49,390.68 C505.50,389.79 506.52,388.88 507.54,387.94 C508.56,387.00 509.58,386.04 510.60,385.04 C511.62,384.04 512.64,383.01 513.66,381.93 C514.68,380.86 515.70,379.75 516.73,378.57 C517.75,377.38 518.76,376.16 519.81,374.85 C520.86,373.53 521.95,372.15 523.03,370.66 C524.11,369.16 525.20,367.58 526.29,365.86 C527.38,364.14 528.53,362.30 529.58,360.36 C530.63,358.42 531.60,356.32 532.60,354.21 C533.60,352.10 534.60,349.87 535.60,347.70 C536.60,345.53 537.60,343.31 538.60,341.20 C539.60,339.09 540.60,337.01 541.60,335.06 C542.60,333.11 543.60,331.24 544.60,329.51 C545.60,327.78 546.60,326.17 547.60,324.70 C548.60,323.24 549.60,321.91 550.60,320.73 C551.60,319.54 552.60,318.51 553.60,317.58 C554.60,316.65 555.60,315.86 556.60,315.15 C557.60,314.43 558.60,313.83 559.60,313.29 C560.60,312.74 561.60,312.29 562.60,311.88 C563.60,311.46 564.60,311.12 565.60,310.81 C566.60,310.51 567.60,310.26 568.60,310.03 C569.60,309.80 570.60,309.62 571.60,309.46 C572.60,309.29 573.60,309.16 574.60,309.04 C575.60,308.91 576.60,308.81 577.60,308.71 C578.60,308.61 579.60,308.52 580.60,308.43 C581.60,308.34 582.60,308.26 583.60,308.18 C584.60,308.09 585.60,308.01 586.60,307.93 C587.60,307.84 588.60,307.75 589.60,307.66 C590.60,307.57 591.60,307.47 592.60,307.37 C593.60,307.26 594.60,307.15 595.60,307.04 C596.60,306.93 597.60,306.81 598.60,306.69 C599.60,306.57 600.60,306.45 601.60,306.34 C602.60,306.22 603.60,306.11 604.60,306.00 C605.60,305.90 606.60,305.80 607.60,305.72 C608.60,305.64 609.60,305.57 610.60,305.51 C611.60,305.45 612.60,305.42 613.60,305.38 C614.60,305.35 615.60,305.34 616.60,305.33 C617.60,305.31 618.60,305.31 619.60,305.31 C620.60,305.30 621.60,305.30 622.60,305.30 C623.60,305.30 624.60,305.30 625.60,305.30 C626.60,305.30 627.60,305.30 628.60,305.30 C629.60,305.30 630.60,305.30 631.60,305.30 C632.60,305.30 633.60,305.30 634.60,305.30 C635.60,305.30 636.60,305.30 637.60,305.30 C638.60,305.30 639.60,305.30 640.60,305.30 C641.60,305.30 642.60,305.30 643.60,305.30 C644.60,305.30 645.60,305.30 646.60,305.30 C647.60,305.30 648.60,305.30 649.60,305.30 C650.60,305.30 651.60,305.30 652.60,305.30 C653.60,305.30 654.60,305.30 655.60,305.30 C656.60,305.30 657.60,305.30 658.60,305.30 C659.60,305.30 660.60,305.30 661.60,305.30 C662.60,305.30 663.60,305.30 664.60,305.30 C665.60,305.30 666.60,305.30 667.60,305.30 C668.60,305.30 669.60,305.30 670.60,305.30 C671.60,305.30 672.77,305.30 673.60,305.30 C674.43,305.30 675.27,305.30 675.60,305.30 L675.60,440.18 C675.27,440.16 674.43,440.11 673.60,440.05 C672.77,440.00 671.60,439.92 670.60,439.86 C669.60,439.80 668.60,439.73 667.60,439.67 C666.60,439.61 665.60,439.55 664.60,439.49 C663.60,439.43 662.60,439.37 661.60,439.31 C660.60,439.25 659.60,439.19 658.60,439.13 C657.60,439.06 656.60,439.00 655.60,438.93 C654.60,438.86 653.60,438.79 652.60,438.72 C651.60,438.65 650.60,438.57 649.60,438.50 C648.60,438.42 647.60,438.34 646.60,438.26 C645.60,438.19 644.60,438.11 643.60,438.03 C642.60,437.95 641.60,437.87 640.60,437.79 C639.60,437.71 638.60,437.63 637.60,437.54 C636.60,437.46 635.60,437.38 634.60,437.30 C633.60,437.22 632.60,437.13 631.60,437.04 C630.60,436.96 629.60,436.87 628.60,436.78 C627.60,436.69 626.60,436.59 625.60,436.50 C624.60,436.41 623.60,436.32 622.60,436.23 C621.60,436.14 620.60,436.05 619.60,435.98 C618.60,435.90 617.60,435.83 616.60,435.77 C615.60,435.70 614.60,435.65 613.60,435.60 C612.60,435.55 611.60,435.51 610.60,435.47 C609.60,435.44 608.60,435.40 607.60,435.37 C606.60,435.34 605.60,435.32 604.60,435.29 C603.60,435.27 602.60,435.24 601.60,435.22 C600.60,435.20 599.60,435.18 598.60,435.16 C597.60,435.14 596.60,435.12 595.60,435.09 C594.60,435.07 593.60,435.04 592.60,435.00 C591.60,434.97 590.60,434.92 589.60,434.87 C588.60,434.82 587.60,434.77 586.60,434.71 C585.60,434.65 584.60,434.58 583.60,434.51 C582.60,434.45 581.60,434.37 580.60,434.30 C579.60,434.23 578.60,434.15 577.60,434.08 C576.60,434.00 575.60,433.92 574.60,433.84 C573.60,433.76 572.60,433.68 571.60,433.60 C570.60,433.52 569.60,433.43 568.60,433.35 C567.60,433.26 566.60,433.17 565.60,433.08 C564.60,432.99 563.60,432.89 562.60,432.79 C561.60,432.69 560.60,432.59 559.60,432.49 C558.60,432.38 557.60,432.28 556.60,432.16 C555.60,432.05 554.60,431.93 553.60,431.81 C552.60,431.69 551.60,431.56 550.60,431.43 C549.60,431.30 548.60,431.16 547.60,431.02 C546.60,430.88 545.60,430.74 544.60,430.60 C543.60,430.46 542.60,430.31 541.60,430.17 C540.60,430.03 539.60,429.88 538.60,429.74 C537.60,429.60 536.60,429.46 535.60,429.34 C534.60,429.21 533.60,429.09 532.60,428.99 C531.60,428.89 530.60,428.80 529.60,428.72 C528.60,428.64 527.60,428.59 526.60,428.52 C525.60,428.46 524.60,428.41 523.60,428.33 C522.60,428.25 521.60,428.17 520.60,428.07 C519.60,427.96 518.60,427.83 517.60,427.69 C516.60,427.56 515.60,427.40 514.60,427.23 C513.60,427.07 512.60,426.89 511.60,426.71 C510.60,426.53 509.60,426.34 508.60,426.15 C507.60,425.96 506.60,425.76 505.60,425.56 C504.60,425.36 503.60,425.16 502.60,424.96 C501.60,424.75 500.60,424.54 499.60,424.33 C498.60,424.11 497.60,423.89 496.60,423.66 C495.60,423.43 494.60,423.20 493.60,422.96 C492.60,422.72 491.60,422.47 490.60,422.22 C489.60,421.97 488.60,421.71 487.60,421.44 C486.60,421.17 485.60,420.90 484.60,420.62 C483.60,420.34 482.60,420.05 481.60,419.75 C480.60,419.45 479.60,419.14 478.60,418.83 C477.60,418.52 476.60,418.22 475.60,417.88 C474.60,417.54 473.60,417.17 472.60,416.81 C471.60,416.45 470.60,416.07 469.60,415.70 C468.60,415.33 467.10,414.78 466.60,414.60 Z" fill="#c8c8c8" clip-path="url(#cBR)"/>
<path d="M466.60,414.60 C467.10,414.42 468.60,413.87 469.60,413.50 C470.60,413.14 471.60,412.77 472.60,412.39 C473.60,412.02 474.60,411.63 475.60,411.26 C476.60,410.89 477.60,410.54 478.60,410.18 C479.60,409.81 480.60,409.44 481.60,409.06 C482.60,408.67 483.60,408.28 484.60,407.88 C485.60,407.49 486.60,407.09 487.60,406.68 C488.60,406.27 489.60,405.86 490.60,405.44 C491.60,405.01 492.60,404.59 493.60,404.14 C494.60,403.70 495.60,403.25 496.60,402.76 C497.60,402.28 498.60,401.79 499.60,401.25 C500.60,400.71 501.60,400.15 502.60,399.54 C503.60,398.93 504.60,398.28 505.60,397.60 C506.60,396.91 507.60,396.18 508.60,395.43 C509.60,394.68 510.60,393.89 511.60,393.10 C512.60,392.30 513.60,391.48 514.60,390.65 C515.60,389.82 516.60,388.97 517.60,388.10 C518.60,387.23 519.60,386.34 520.60,385.42 C521.60,384.51 522.60,383.57 523.60,382.61 C524.60,381.64 525.60,380.65 526.60,379.63 C527.60,378.61 528.60,377.56 529.60,376.47 C530.60,375.38 531.60,374.26 532.60,373.09 C533.60,371.92 534.60,370.71 535.60,369.46 C536.60,368.20 537.60,366.90 538.60,365.56 C539.60,364.22 540.60,362.84 541.60,361.40 C542.60,359.96 543.60,358.49 544.60,356.94 C545.60,355.38 546.60,353.77 547.60,352.08 C548.60,350.39 549.60,348.60 550.60,346.79 C551.60,344.98 552.60,343.08 553.60,341.22 C554.60,339.37 555.60,337.46 556.60,335.67 C557.60,333.88 558.60,332.11 559.60,330.48 C560.60,328.84 561.60,327.29 562.60,325.87 C563.60,324.45 564.60,323.14 565.60,321.95 C566.60,320.75 567.60,319.67 568.60,318.69 C569.60,317.70 570.60,316.83 571.60,316.04 C572.60,315.24 573.60,314.55 574.60,313.92 C575.60,313.29 576.60,312.75 577.60,312.26 C578.60,311.78 579.60,311.37 580.60,311.00 C581.60,310.63 582.60,310.32 583.60,310.05 C584.60,309.77 585.60,309.54 586.60,309.33 C587.60,309.12 588.60,308.95 589.60,308.79 C590.60,308.63 591.60,308.49 592.60,308.37 C593.60,308.24 594.60,308.13 595.60,308.03 C596.60,307.93 597.60,307.85 598.60,307.76 C599.60,307.68 600.60,307.61 601.60,307.54 C602.60,307.47 603.60,307.40 604.60,307.34 C605.60,307.27 606.60,307.21 607.60,307.13 C608.60,307.06 609.60,306.98 610.60,306.90 C611.60,306.81 612.60,306.72 613.60,306.62 C614.60,306.52 615.60,306.41 616.60,306.30 C617.60,306.20 618.60,306.09 619.60,305.99 C620.60,305.89 621.60,305.79 622.60,305.71 C623.60,305.63 624.60,305.56 625.60,305.51 C626.60,305.45 627.60,305.41 628.60,305.38 C629.60,305.35 630.60,305.34 631.60,305.33 C632.60,305.31 633.60,305.31 634.60,305.31 C635.60,305.30 636.60,305.30 637.60,305.30 C638.60,305.30 639.60,305.30 640.60,305.30 C641.60,305.30 642.60,305.30 643.60,305.30 C644.60,305.30 645.60,305.30 646.60,305.30 C647.60,305.30 648.60,305.30 649.60,305.30 C650.60,305.30 651.60,305.30 652.60,305.30 C653.60,305.30 654.60,305.30 655.60,305.30 C656.60,305.30 657.60,305.30 658.60,305.30 C659.60,305.30 660.60,305.30 661.60,305.30 C662.60,305.30 663.60,305.30 664.60,305.30 C665.60,305.30 666.60,305.30 667.60,305.30 C668.60,305.30 669.60,305.30 670.60,305.30 C671.60,305.30 672.77,305.30 673.60,305.30 C674.43,305.30 675.27,305.30 675.60,305.30 L675.60,432.12 C675.27,432.12 674.43,432.12 673.60,432.12 C672.77,432.12 671.60,432.12 670.60,432.12 C669.60,432.12 668.60,432.12 667.60,432.11 C666.60,432.11 665.60,432.10 664.60,432.09 C663.60,432.08 662.60,432.08 661.60,432.07 C660.60,432.06 659.60,432.05 658.60,432.04 C657.60,432.03 656.60,432.01 655.60,432.00 C654.60,431.99 653.60,431.97 652.60,431.96 C651.60,431.94 650.60,431.92 649.60,431.90 C648.60,431.89 647.60,431.87 646.60,431.84 C645.60,431.82 644.60,431.80 643.60,431.78 C642.60,431.75 641.60,431.73 640.60,431.70 C639.60,431.68 638.60,431.65 637.60,431.62 C636.60,431.59 635.60,431.56 634.60,431.53 C633.60,431.50 632.60,431.47 631.60,431.44 C630.60,431.40 629.60,431.37 628.60,431.33 C627.60,431.30 626.60,431.26 625.60,431.23 C624.60,431.19 623.60,431.15 622.60,431.12 C621.60,431.08 620.60,431.05 619.60,431.02 C618.60,430.99 617.60,430.96 616.60,430.94 C615.60,430.92 614.60,430.90 613.60,430.88 C612.60,430.87 611.60,430.85 610.60,430.84 C609.60,430.83 608.60,430.82 607.60,430.81 C606.60,430.80 605.60,430.79 604.60,430.78 C603.60,430.77 602.60,430.76 601.60,430.75 C600.60,430.74 599.60,430.73 598.60,430.72 C597.60,430.70 596.60,430.69 595.60,430.68 C594.60,430.66 593.60,430.64 592.60,430.62 C591.60,430.60 590.60,430.57 589.60,430.55 C588.60,430.52 587.60,430.48 586.60,430.45 C585.60,430.41 584.60,430.38 583.60,430.34 C582.60,430.30 581.60,430.25 580.60,430.21 C579.60,430.17 578.60,430.12 577.60,430.08 C576.60,430.03 575.60,429.98 574.60,429.93 C573.60,429.89 572.60,429.84 571.60,429.78 C570.60,429.73 569.60,429.68 568.60,429.63 C567.60,429.57 566.60,429.52 565.60,429.46 C564.60,429.41 563.60,429.35 562.60,429.29 C561.60,429.23 560.60,429.17 559.60,429.11 C558.60,429.05 557.60,428.98 556.60,428.92 C555.60,428.85 554.60,428.78 553.60,428.71 C552.60,428.64 551.60,428.56 550.60,428.49 C549.60,428.41 548.60,428.34 547.60,428.26 C546.60,428.18 545.60,428.10 544.60,428.02 C543.60,427.94 542.60,427.86 541.60,427.78 C540.60,427.70 539.60,427.62 538.60,427.54 C537.60,427.46 536.60,427.38 535.60,427.31 C534.60,427.23 533.60,427.15 532.60,427.07 C531.60,427.00 530.60,426.92 529.60,426.85 C528.60,426.77 527.60,426.70 526.60,426.61 C525.60,426.53 524.60,426.45 523.60,426.36 C522.60,426.27 521.60,426.18 520.60,426.07 C519.60,425.97 518.60,425.85 517.60,425.73 C516.60,425.61 515.60,425.49 514.60,425.35 C513.60,425.22 512.60,425.08 511.60,424.94 C510.60,424.79 509.60,424.64 508.60,424.49 C507.60,424.33 506.60,424.17 505.60,424.01 C504.60,423.84 503.60,423.67 502.60,423.50 C501.60,423.32 500.60,423.14 499.60,422.96 C498.60,422.77 497.60,422.58 496.60,422.39 C495.60,422.20 494.60,422.00 493.60,421.79 C492.60,421.59 491.60,421.38 490.60,421.16 C489.60,420.94 488.60,420.72 487.60,420.49 C486.60,420.26 485.60,420.02 484.60,419.78 C483.60,419.53 482.60,419.28 481.60,419.02 C480.60,418.77 479.60,418.50 478.60,418.24 C477.60,417.98 476.60,417.72 475.60,417.44 C474.60,417.16 473.60,416.86 472.60,416.55 C471.60,416.24 470.60,415.91 469.60,415.59 C468.60,415.26 467.10,414.77 466.60,414.60 Z" fill="#44ff08" clip-path="url(#cBR)"/>
<path d="M466.73,414.60 C467.23,414.49 468.74,414.17 469.75,413.94 C470.75,413.72 471.76,413.48 472.76,413.24 C473.77,412.99 474.77,412.72 475.78,412.47 C476.79,412.22 477.79,411.98 478.80,411.73 C479.80,411.48 480.81,411.23 481.82,410.97 C482.82,410.71 483.83,410.45 484.84,410.17 C485.84,409.90 486.85,409.63 487.86,409.35 C488.86,409.06 489.87,408.77 490.88,408.47 C491.88,408.17 492.89,407.87 493.90,407.55 C494.91,407.23 495.91,406.89 496.92,406.55 C497.93,406.20 498.94,405.84 499.95,405.48 C500.96,405.11 501.97,404.73 502.98,404.34 C503.99,403.95 504.99,403.55 506.00,403.14 C507.01,402.73 508.02,402.32 509.04,401.87 C510.05,401.43 511.06,400.98 512.07,400.48 C513.08,399.98 514.09,399.46 515.11,398.88 C516.12,398.31 517.14,397.68 518.15,397.02 C519.17,396.36 520.18,395.65 521.20,394.92 C522.22,394.19 523.25,393.42 524.28,392.63 C525.31,391.84 526.33,391.04 527.36,390.18 C528.39,389.32 529.42,388.44 530.45,387.48 C531.48,386.53 532.52,385.53 533.55,384.47 C534.59,383.41 535.62,382.28 536.66,381.11 C537.70,379.94 538.74,378.70 539.79,377.45 C540.83,376.20 541.87,374.90 542.91,373.61 C543.96,372.33 545.00,371.02 546.04,369.74 C547.08,368.46 548.15,367.18 549.17,365.93 C550.19,364.68 551.18,363.46 552.18,362.24 C553.18,361.03 554.17,359.85 555.16,358.64 C556.15,357.42 557.14,356.23 558.13,354.96 C559.12,353.68 560.12,352.39 561.11,350.98 C562.10,349.58 563.09,348.10 564.08,346.55 C565.07,345.00 566.06,343.34 567.04,341.70 C568.03,340.05 569.06,338.32 570.01,336.66 C570.97,335.00 571.86,333.32 572.77,331.74 C573.68,330.16 574.55,328.61 575.45,327.17 C576.35,325.74 577.26,324.38 578.17,323.13 C579.08,321.88 580.00,320.73 580.93,319.68 C581.85,318.63 582.78,317.69 583.73,316.84 C584.67,315.99 585.62,315.25 586.60,314.58 C587.58,313.92 588.60,313.35 589.60,312.84 C590.60,312.33 591.60,311.90 592.60,311.51 C593.60,311.12 594.60,310.80 595.60,310.50 C596.60,310.20 597.60,309.94 598.60,309.71 C599.60,309.47 600.60,309.27 601.60,309.07 C602.60,308.88 603.60,308.71 604.60,308.55 C605.60,308.39 606.60,308.24 607.60,308.10 C608.60,307.97 609.60,307.84 610.60,307.73 C611.60,307.61 612.60,307.50 613.60,307.40 C614.60,307.30 615.60,307.21 616.60,307.13 C617.60,307.04 618.60,306.97 619.60,306.90 C620.60,306.82 621.60,306.76 622.60,306.70 C623.60,306.63 624.60,306.58 625.60,306.51 C626.60,306.45 627.60,306.39 628.60,306.32 C629.60,306.25 630.60,306.18 631.60,306.10 C632.60,306.02 633.60,305.94 634.60,305.86 C635.60,305.79 636.60,305.71 637.60,305.64 C638.60,305.58 639.60,305.52 640.60,305.47 C641.60,305.43 642.60,305.40 643.60,305.37 C644.60,305.35 645.60,305.33 646.60,305.32 C647.60,305.31 648.60,305.31 649.60,305.31 C650.60,305.30 651.60,305.30 652.60,305.30 C653.60,305.30 654.60,305.30 655.60,305.30 C656.60,305.30 657.60,305.30 658.60,305.30 C659.60,305.30 660.60,305.30 661.60,305.30 C662.60,305.30 663.60,305.30 664.60,305.30 C665.60,305.30 666.60,305.30 667.60,305.30 C668.60,305.30 669.60,305.30 670.60,305.30 C671.60,305.30 672.77,305.30 673.60,305.30 C674.43,305.30 675.27,305.30 675.60,305.30 L675.60,412.61 C675.27,412.67 674.43,412.82 673.60,412.98 C672.77,413.14 671.60,413.37 670.60,413.56 C669.60,413.74 668.60,413.92 667.60,414.09 C666.60,414.25 665.60,414.40 664.60,414.55 C663.60,414.70 662.60,414.85 661.60,414.99 C660.60,415.13 659.60,415.28 658.60,415.42 C657.60,415.56 656.60,415.70 655.60,415.83 C654.60,415.97 653.60,416.11 652.60,416.24 C651.60,416.37 650.60,416.51 649.60,416.64 C648.60,416.77 647.60,416.89 646.60,417.02 C645.60,417.15 644.60,417.27 643.60,417.39 C642.60,417.51 641.60,417.62 640.60,417.74 C639.60,417.85 638.60,417.96 637.60,418.06 C636.60,418.17 635.60,418.27 634.60,418.37 C633.60,418.48 632.60,418.58 631.60,418.68 C630.60,418.78 629.60,418.88 628.60,418.98 C627.60,419.08 626.60,419.18 625.60,419.28 C624.60,419.38 623.60,419.48 622.60,419.58 C621.60,419.68 620.60,419.79 619.60,419.89 C618.60,419.99 617.60,420.09 616.60,420.20 C615.60,420.30 614.60,420.41 613.60,420.51 C612.60,420.62 611.60,420.73 610.60,420.83 C609.60,420.93 608.60,421.04 607.60,421.14 C606.60,421.24 605.60,421.34 604.60,421.43 C603.60,421.53 602.60,421.62 601.60,421.71 C600.60,421.80 599.60,421.88 598.60,421.96 C597.60,422.04 596.60,422.12 595.60,422.20 C594.60,422.27 593.60,422.35 592.60,422.41 C591.60,422.48 590.60,422.55 589.60,422.61 C588.60,422.67 587.60,422.73 586.60,422.78 C585.60,422.83 584.60,422.88 583.60,422.92 C582.60,422.97 581.60,423.01 580.60,423.04 C579.60,423.08 578.60,423.11 577.60,423.14 C576.60,423.16 575.60,423.18 574.60,423.20 C573.60,423.21 572.60,423.22 571.60,423.23 C570.60,423.24 569.60,423.24 568.60,423.24 C567.60,423.24 566.60,423.24 565.60,423.23 C564.60,423.22 563.60,423.21 562.60,423.20 C561.60,423.18 560.60,423.16 559.60,423.14 C558.60,423.12 557.60,423.09 556.60,423.06 C555.60,423.03 554.60,423.00 553.60,422.96 C552.60,422.93 551.60,422.88 550.60,422.84 C549.60,422.80 548.60,422.75 547.60,422.70 C546.60,422.66 545.60,422.61 544.60,422.56 C543.60,422.51 542.60,422.46 541.60,422.41 C540.60,422.36 539.60,422.31 538.60,422.26 C537.60,422.21 536.60,422.16 535.60,422.12 C534.60,422.07 533.60,422.02 532.60,421.98 C531.60,421.93 530.60,421.89 529.60,421.84 C528.60,421.80 527.60,421.75 526.60,421.71 C525.60,421.66 524.60,421.61 523.60,421.56 C522.60,421.51 521.60,421.45 520.60,421.38 C519.60,421.32 518.60,421.25 517.60,421.18 C516.60,421.11 515.60,421.03 514.60,420.95 C513.60,420.87 512.60,420.78 511.60,420.70 C510.60,420.61 509.60,420.52 508.60,420.43 C507.60,420.35 506.60,420.26 505.60,420.17 C504.60,420.08 503.60,419.99 502.60,419.90 C501.60,419.82 500.60,419.73 499.60,419.65 C498.60,419.56 497.60,419.48 496.60,419.39 C495.60,419.31 494.60,419.22 493.60,419.13 C492.60,419.04 491.60,418.95 490.60,418.85 C489.60,418.75 488.60,418.64 487.60,418.53 C486.60,418.41 485.60,418.29 484.60,418.15 C483.60,418.02 482.60,417.87 481.60,417.71 C480.60,417.54 479.60,417.37 478.60,417.19 C477.60,417.01 476.60,416.83 475.60,416.62 C474.60,416.41 473.60,416.17 472.60,415.95 C471.60,415.72 470.60,415.48 469.60,415.26 C468.60,415.04 467.10,414.71 466.60,414.60 Z" fill="#f0ff88" clip-path="url(#cBR)"/>
<path d="M393.00,414.60 C399.17,414.60 418.83,414.60 430.00,414.60 C441.17,414.60 453.90,414.60 460.00,414.60 C466.10,414.60 465.00,414.61 466.60,414.60 C468.20,414.59 468.60,414.54 469.60,414.51 C470.60,414.48 471.60,414.46 472.60,414.43 C473.60,414.39 474.60,414.36 475.60,414.32 C476.60,414.28 477.60,414.24 478.60,414.19 C479.60,414.13 480.60,414.07 481.60,414.00 C482.60,413.93 483.60,413.85 484.60,413.76 C485.60,413.67 486.60,413.58 487.60,413.48 C488.60,413.37 489.60,413.26 490.60,413.14 C491.60,413.01 492.60,412.87 493.60,412.72 C494.60,412.57 495.60,412.41 496.60,412.24 C497.60,412.06 498.60,411.88 499.60,411.70 C500.60,411.51 501.60,411.32 502.60,411.11 C503.60,410.90 504.60,410.69 505.60,410.46 C506.60,410.24 507.60,410.00 508.60,409.76 C509.60,409.51 510.60,409.26 511.60,409.01 C512.60,408.75 513.60,408.49 514.60,408.22 C515.60,407.94 516.60,407.66 517.60,407.37 C518.60,407.08 519.60,406.77 520.60,406.46 C521.60,406.15 522.60,405.84 523.60,405.51 C524.60,405.18 525.60,404.85 526.60,404.50 C527.60,404.14 528.60,403.77 529.60,403.38 C530.60,402.99 531.60,402.57 532.60,402.14 C533.60,401.71 534.60,401.26 535.60,400.81 C536.60,400.35 537.60,399.89 538.60,399.42 C539.60,398.94 540.60,398.46 541.60,397.96 C542.60,397.46 543.60,396.95 544.60,396.42 C545.60,395.90 546.60,395.36 547.60,394.82 C548.60,394.28 549.60,393.72 550.60,393.17 C551.60,392.61 552.60,392.05 553.60,391.48 C554.60,390.91 555.60,390.33 556.60,389.75 C557.60,389.16 558.60,388.57 559.60,387.98 C560.60,387.39 561.60,386.79 562.60,386.21 C563.60,385.63 564.60,385.05 565.60,384.49 C566.60,383.93 567.60,383.38 568.60,382.85 C569.60,382.32 570.60,381.80 571.60,381.29 C572.60,380.78 573.60,380.28 574.60,379.78 C575.60,379.29 576.60,378.80 577.60,378.32 C578.60,377.84 579.60,377.36 580.60,376.89 C581.60,376.43 582.60,375.97 583.60,375.51 C584.60,375.06 585.60,374.61 586.60,374.18 C587.60,373.74 588.60,373.31 589.60,372.91 C590.60,372.50 591.60,372.11 592.60,371.73 C593.60,371.36 594.60,371.00 595.60,370.65 C596.60,370.30 597.60,369.97 598.60,369.64 C599.60,369.30 600.60,368.98 601.60,368.65 C602.60,368.33 603.60,368.00 604.60,367.68 C605.60,367.36 606.60,367.05 607.60,366.73 C608.60,366.42 609.60,366.10 610.60,365.79 C611.60,365.48 612.60,365.17 613.60,364.86 C614.60,364.56 615.60,364.25 616.60,363.94 C617.60,363.64 618.60,363.34 619.60,363.04 C620.60,362.74 621.60,362.44 622.60,362.14 C623.60,361.85 624.60,361.55 625.60,361.26 C626.60,360.97 627.60,360.68 628.60,360.40 C629.60,360.12 630.60,359.85 631.60,359.58 C632.60,359.32 633.60,359.07 634.60,358.82 C635.60,358.57 636.60,358.33 637.60,358.10 C638.60,357.87 639.60,357.64 640.60,357.42 C641.60,357.19 642.60,356.98 643.60,356.77 C644.60,356.55 645.60,356.35 646.60,356.15 C647.60,355.94 648.60,355.74 649.60,355.54 C650.60,355.35 651.60,355.15 652.60,354.96 C653.60,354.76 654.60,354.57 655.60,354.39 C656.60,354.20 657.60,354.02 658.60,353.83 C659.60,353.65 660.60,353.47 661.60,353.29 C662.60,353.12 663.60,352.94 664.60,352.77 C665.60,352.60 666.60,352.44 667.60,352.27 C668.60,352.11 669.60,351.93 670.60,351.77 C671.60,351.60 672.93,351.38 673.60,351.28 C674.27,351.17 674.43,351.14 674.60,351.12" fill="none" stroke="#202020" stroke-width="0.65" clip-path="url(#cBR)"/>
<path d="M393.00,414.70 C399.17,414.70 418.83,414.70 430.00,414.70 C441.17,414.70 453.90,414.72 460.00,414.70 C466.10,414.68 465.00,414.61 466.60,414.60 C468.20,414.59 468.60,414.62 469.60,414.63 C470.60,414.64 471.60,414.65 472.60,414.66 C473.60,414.67 474.60,414.68 475.60,414.68 C476.60,414.69 477.60,414.69 478.60,414.68 C479.60,414.68 480.60,414.66 481.60,414.64 C482.60,414.63 483.60,414.60 484.60,414.57 C485.60,414.54 486.60,414.51 487.60,414.48 C488.60,414.44 489.60,414.41 490.60,414.37 C491.60,414.33 492.60,414.28 493.60,414.23 C494.60,414.18 495.60,414.12 496.60,414.06 C497.60,414.01 498.60,413.95 499.60,413.88 C500.60,413.82 501.60,413.75 502.60,413.68 C503.60,413.61 504.60,413.53 505.60,413.44 C506.60,413.35 507.60,413.26 508.60,413.16 C509.60,413.06 510.60,412.96 511.60,412.86 C512.60,412.76 513.60,412.66 514.60,412.55 C515.60,412.45 516.60,412.34 517.60,412.24 C518.60,412.13 519.60,412.02 520.60,411.90 C521.60,411.79 522.60,411.68 523.60,411.56 C524.60,411.44 525.60,411.33 526.60,411.19 C527.60,411.05 528.60,410.90 529.60,410.72 C530.60,410.54 531.60,410.33 532.60,410.11 C533.60,409.90 534.60,409.66 535.60,409.43 C536.60,409.20 537.60,408.96 538.60,408.72 C539.60,408.48 540.60,408.25 541.60,408.00 C542.60,407.76 543.60,407.52 544.60,407.27 C545.60,407.02 546.60,406.78 547.60,406.53 C548.60,406.27 549.60,406.03 550.60,405.77 C551.60,405.51 552.60,405.25 553.60,404.97 C554.60,404.69 555.60,404.40 556.60,404.10 C557.60,403.80 558.60,403.48 559.60,403.17 C560.60,402.85 561.60,402.53 562.60,402.21 C563.60,401.89 564.60,401.57 565.60,401.24 C566.60,400.92 567.60,400.59 568.60,400.27 C569.60,399.94 570.60,399.61 571.60,399.28 C572.60,398.95 573.60,398.62 574.60,398.28 C575.60,397.94 576.60,397.60 577.60,397.24 C578.60,396.88 579.60,396.50 580.60,396.11 C581.60,395.72 582.60,395.30 583.60,394.88 C584.60,394.47 585.60,394.05 586.60,393.61 C587.60,393.17 588.60,392.73 589.60,392.24 C590.60,391.76 591.60,391.24 592.60,390.69 C593.60,390.14 594.60,389.53 595.60,388.93 C596.60,388.33 597.60,387.71 598.60,387.08 C599.60,386.45 600.60,385.83 601.60,385.17 C602.60,384.51 603.60,383.84 604.60,383.13 C605.60,382.42 606.60,381.67 607.60,380.91 C608.60,380.15 609.60,379.36 610.60,378.57 C611.60,377.78 612.60,376.99 613.60,376.18 C614.60,375.37 615.60,374.55 616.60,373.71 C617.60,372.86 618.60,372.00 619.60,371.11 C620.60,370.21 621.60,369.30 622.60,368.35 C623.60,367.40 624.60,366.42 625.60,365.42 C626.60,364.41 627.60,363.39 628.60,362.33 C629.60,361.27 630.60,360.21 631.60,359.07 C632.60,357.94 633.60,356.78 634.60,355.53 C635.60,354.28 636.60,352.94 637.60,351.56 C638.60,350.17 639.60,348.67 640.60,347.21 C641.60,345.76 642.60,344.27 643.60,342.82 C644.60,341.36 645.60,339.94 646.60,338.49 C647.60,337.05 648.60,335.59 649.60,334.14 C650.60,332.70 651.60,331.22 652.60,329.83 C653.60,328.44 654.60,327.05 655.60,325.79 C656.60,324.53 657.60,323.33 658.60,322.25 C659.60,321.17 660.60,320.19 661.60,319.30 C662.60,318.41 663.60,317.62 664.60,316.91 C665.60,316.20 666.60,315.61 667.60,315.04 C668.60,314.47 669.60,313.95 670.60,313.51 C671.60,313.07 672.93,312.64 673.60,312.40 C674.27,312.16 674.43,312.11 674.60,312.05" fill="none" stroke="#4444b4" stroke-width="0.72" clip-path="url(#cBR)"/>
<text x="174.0" y="92.3" font-size="11.1" text-anchor="middle" >EXPECTED PERFORMANCE</text>
<text x="36.5" y="108.8" font-size="11" text-anchor="end" >2</text>
<path class="g1" d="M763 0H583V1147Q518 1085 412.5 1023T223 930V1104Q374 1175 487 1276T647 1472H763Z" transform="translate(30.38,156.1) scale(0.005371,-0.005371)"/>
<text x="36.5" y="203.1" font-size="11" text-anchor="end" >0</text>
<text x="40.4" y="212.8" font-size="11" text-anchor="middle" >0</text>
<text x="68.4" y="212.8" font-size="11" text-anchor="middle" >2</text>
<text x="96.4" y="212.8" font-size="11" text-anchor="middle" >4</text>
<text x="124.4" y="212.8" font-size="11" text-anchor="middle" >6</text>
<text x="152.4" y="212.8" font-size="11" text-anchor="middle" >8</text>
<path class="g1" d="M763 0H583V1147Q518 1085 412.5 1023T223 930V1104Q374 1175 487 1276T647 1472H763Z" transform="translate(174.28,212.8) scale(0.005371,-0.005371)"/>
<text x="180.40" y="212.8" font-size="11">0</text>
<path class="g1" d="M763 0H583V1147Q518 1085 412.5 1023T223 930V1104Q374 1175 487 1276T647 1472H763Z" transform="translate(202.28,212.8) scale(0.005371,-0.005371)"/>
<text x="208.40" y="212.8" font-size="11">2</text>
<path class="g1" d="M763 0H583V1147Q518 1085 412.5 1023T223 930V1104Q374 1175 487 1276T647 1472H763Z" transform="translate(230.28,212.8) scale(0.005371,-0.005371)"/>
<text x="236.40" y="212.8" font-size="11">4</text>
<path class="g1" d="M763 0H583V1147Q518 1085 412.5 1023T223 930V1104Q374 1175 487 1276T647 1472H763Z" transform="translate(258.28,212.8) scale(0.005371,-0.005371)"/>
<text x="264.40" y="212.8" font-size="11">6</text>
<path class="g1" d="M763 0H583V1147Q518 1085 412.5 1023T223 930V1104Q374 1175 487 1276T647 1472H763Z" transform="translate(286.28,212.8) scale(0.005371,-0.005371)"/>
<text x="292.40" y="212.8" font-size="11">8</text>
<text x="320.4" y="212.8" font-size="11" text-anchor="middle" >20</text>
<text x="180.5" y="232.7" font-size="11.45" text-anchor="middle" >Time (Week)</text>
<text font-size="11.45" text-anchor="middle" transform="translate(12.2,151.65) rotate(-90)">Dmnl</text>
<text x="529.5" y="91.3" font-size="11.2" text-anchor="middle" >EXPECTED PERFORMANCE</text>
<text x="390.6" y="108.0" font-size="11" text-anchor="end" >2</text>
<path class="g1" d="M763 0H583V1147Q518 1085 412.5 1023T223 930V1104Q374 1175 487 1276T647 1472H763Z" transform="translate(384.48,155.3) scale(0.005371,-0.005371)"/>
<text x="390.6" y="202.7" font-size="11" text-anchor="end" >0</text>
<text x="394.8" y="212.2" font-size="11" text-anchor="middle" >0</text>
<text x="423.1" y="212.2" font-size="11" text-anchor="middle" >2</text>
<text x="451.3" y="212.2" font-size="11" text-anchor="middle" >4</text>
<text x="479.6" y="212.2" font-size="11" text-anchor="middle" >6</text>
<text x="507.9" y="212.2" font-size="11" text-anchor="middle" >8</text>
<path class="g1" d="M763 0H583V1147Q518 1085 412.5 1023T223 930V1104Q374 1175 487 1276T647 1472H763Z" transform="translate(529.98,212.2) scale(0.005371,-0.005371)"/>
<text x="536.10" y="212.2" font-size="11">0</text>
<path class="g1" d="M763 0H583V1147Q518 1085 412.5 1023T223 930V1104Q374 1175 487 1276T647 1472H763Z" transform="translate(558.28,212.2) scale(0.005371,-0.005371)"/>
<text x="564.40" y="212.2" font-size="11">2</text>
<path class="g1" d="M763 0H583V1147Q518 1085 412.5 1023T223 930V1104Q374 1175 487 1276T647 1472H763Z" transform="translate(586.58,212.2) scale(0.005371,-0.005371)"/>
<text x="592.70" y="212.2" font-size="11">4</text>
<path class="g1" d="M763 0H583V1147Q518 1085 412.5 1023T223 930V1104Q374 1175 487 1276T647 1472H763Z" transform="translate(614.88,212.2) scale(0.005371,-0.005371)"/>
<text x="621.00" y="212.2" font-size="11">6</text>
<path class="g1" d="M763 0H583V1147Q518 1085 412.5 1023T223 930V1104Q374 1175 487 1276T647 1472H763Z" transform="translate(643.08,212.2) scale(0.005371,-0.005371)"/>
<text x="649.20" y="212.2" font-size="11">8</text>
<text x="677.5" y="212.2" font-size="11" text-anchor="middle" >20</text>
<text x="536.05" y="232.7" font-size="11.45" text-anchor="middle" >Time (Week)</text>
<text font-size="11.45" text-anchor="middle" transform="translate(365.9,151.05) rotate(-90)">Dmnl</text>
<text x="173.8" y="296" font-size="11.4" text-anchor="middle" >Trust in AA</text>
<path class="g1" d="M763 0H583V1147Q518 1085 412.5 1023T223 930V1104Q374 1175 487 1276T647 1472H763Z" transform="translate(30.38,313) scale(0.005371,-0.005371)"/>
<text x="36.5" y="385" font-size="11" text-anchor="end" >0.5</text>
<text x="36.5" y="457" font-size="11" text-anchor="end" >0</text>
<text x="40.4" y="466.2" font-size="11" text-anchor="middle" >0</text>
<text x="68.4" y="466.2" font-size="11" text-anchor="middle" >2</text>
<text x="96.4" y="466.2" font-size="11" text-anchor="middle" >4</text>
<text x="124.4" y="466.2" font-size="11" text-anchor="middle" >6</text>
<text x="152.4" y="466.2" font-size="11" text-anchor="middle" >8</text>
<path class="g1" d="M763 0H583V1147Q518 1085 412.5 1023T223 930V1104Q374 1175 487 1276T647 1472H763Z" transform="translate(174.28,466.2) scale(0.005371,-0.005371)"/>
<text x="180.40" y="466.2" font-size="11">0</text>
<path class="g1" d="M763 0H583V1147Q518 1085 412.5 1023T223 930V1104Q374 1175 487 1276T647 1472H763Z" transform="translate(202.28,466.2) scale(0.005371,-0.005371)"/>
<text x="208.40" y="466.2" font-size="11">2</text>
<path class="g1" d="M763 0H583V1147Q518 1085 412.5 1023T223 930V1104Q374 1175 487 1276T647 1472H763Z" transform="translate(230.28,466.2) scale(0.005371,-0.005371)"/>
<text x="236.40" y="466.2" font-size="11">4</text>
<path class="g1" d="M763 0H583V1147Q518 1085 412.5 1023T223 930V1104Q374 1175 487 1276T647 1472H763Z" transform="translate(258.28,466.2) scale(0.005371,-0.005371)"/>
<text x="264.40" y="466.2" font-size="11">6</text>
<path class="g1" d="M763 0H583V1147Q518 1085 412.5 1023T223 930V1104Q374 1175 487 1276T647 1472H763Z" transform="translate(286.28,466.2) scale(0.005371,-0.005371)"/>
<text x="292.40" y="466.2" font-size="11">8</text>
<text x="320.4" y="466.2" font-size="11" text-anchor="middle" >20</text>
<text x="180.5" y="486" font-size="11.45" text-anchor="middle" >Time (Week)</text>
<text font-size="11.45" text-anchor="middle" transform="translate(12.2,380.75) rotate(-90)">Dmnl</text>
<text x="528" y="295" font-size="11.4" text-anchor="middle" >Trust in AA</text>
<path class="g1" d="M763 0H583V1147Q518 1085 412.5 1023T223 930V1104Q374 1175 487 1276T647 1472H763Z" transform="translate(384.48,311.5) scale(0.005371,-0.005371)"/>
<text x="390.6" y="384" font-size="11" text-anchor="end" >0.5</text>
<text x="390.6" y="455.5" font-size="11" text-anchor="end" >0</text>
<text x="394.6" y="464.5" font-size="11" text-anchor="middle" >0</text>
<text x="422.6" y="464.5" font-size="11" text-anchor="middle" >2</text>
<text x="450.6" y="464.5" font-size="11" text-anchor="middle" >4</text>
<text x="478.6" y="464.5" font-size="11" text-anchor="middle" >6</text>
<text x="506.6" y="464.5" font-size="11" text-anchor="middle" >8</text>
<path class="g1" d="M763 0H583V1147Q518 1085 412.5 1023T223 930V1104Q374 1175 487 1276T647 1472H763Z" transform="translate(528.48,464.5) scale(0.005371,-0.005371)"/>
<text x="534.60" y="464.5" font-size="11">0</text>
<path class="g1" d="M763 0H583V1147Q518 1085 412.5 1023T223 930V1104Q374 1175 487 1276T647 1472H763Z" transform="translate(556.48,464.5) scale(0.005371,-0.005371)"/>
<text x="562.60" y="464.5" font-size="11">2</text>
<path class="g1" d="M763 0H583V1147Q518 1085 412.5 1023T223 930V1104Q374 1175 487 1276T647 1472H763Z" transform="translate(584.48,464.5) scale(0.005371,-0.005371)"/>
<text x="590.60" y="464.5" font-size="11">4</text>
<path class="g1" d="M763 0H583V1147Q518 1085 412.5 1023T223 930V1104Q374 1175 487 1276T647 1472H763Z" transform="translate(612.48,464.5) scale(0.005371,-0.005371)"/>
<text x="618.60" y="464.5" font-size="11">6</text>
<path class="g1" d="M763 0H583V1147Q518 1085 412.5 1023T223 930V1104Q374 1175 487 1276T647 1472H763Z" transform="translate(640.48,464.5) scale(0.005371,-0.005371)"/>
<text x="646.60" y="464.5" font-size="11">8</text>
<text x="674.6" y="464.5" font-size="11" text-anchor="middle" >20</text>
<text x="534.8" y="486" font-size="11.45" text-anchor="middle" >Time (Week)</text>
<text font-size="11.45" text-anchor="middle" transform="translate(365.9,378.85) rotate(-90)">Dmnl</text>
</g>
</svg>
</body></html>
